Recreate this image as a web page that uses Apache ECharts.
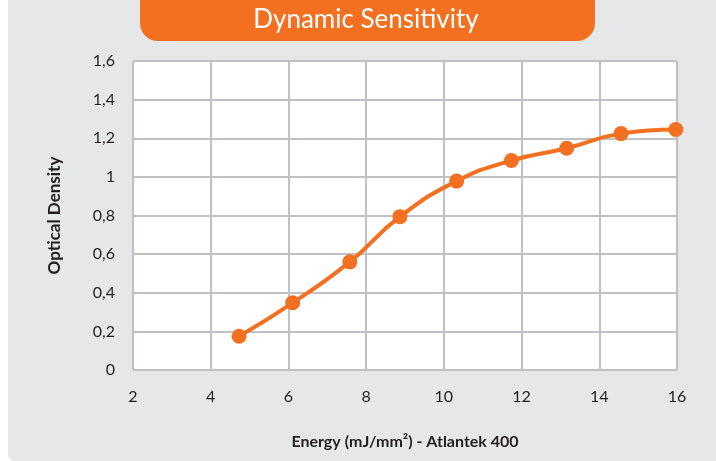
<!DOCTYPE html>
<html>
<head>
<meta charset="utf-8">
<script src="https://cdn.jsdelivr.net/npm/echarts@6/dist/echarts.min.js"></script>
<style>
  html, body { margin: 0; padding: 0; background: #fff; }
  #main { width: 716px; height: 461px; }
</style>
</head>
<body>
<div id="main"></div>
<script>
// energy (mJ/mm2) vs optical density
var energy = [4.73, 6.11, 7.58, 8.87, 10.33, 11.74, 13.16, 14.56, 15.97];
var density = [0.175, 0.348, 0.56, 0.794, 0.978, 1.085, 1.148, 1.224, 1.245];
var xTicks = [2, 4, 6, 8, 10, 12, 14, 16];
var yTicks = [0, 0.2, 0.4, 0.6, 0.8, 1, 1.2, 1.4, 1.6];

var orange = '#f37021';
var myChart = echarts.init(document.getElementById('main'));

var option = {
  animation: false,
  textStyle: { fontFamily: 'Lato' },
  graphic: [
    {
      type: 'rect', z: -10, silent: true,
      shape: { x: 8, y: 0, width: 716, height: 461, r: [0, 0, 0, 6] },
      style: { fill: '#e6e7e8' }
    },
    {
      type: 'rect', z: -5, silent: true,
      shape: { x: 140, y: 0, width: 455, height: 41, r: [0, 0, 18, 18] },
      style: { fill: orange }
    },
    {
      type: 'text', z: 10, silent: true,
      x: 366, y: 20,
      style: {
        text: 'Dynamic Sensitivity', fill: '#fff',
        font: '26px Lato', align: 'center', verticalAlign: 'middle'
      }
    }
  ],
  grid: {
    left: 133, right: 39, top: 61, bottom: 91,
    show: true, backgroundColor: '#fff', borderWidth: 0
  },
  xAxis: {
    type: 'value', min: 2, max: 16, interval: 2,
    name: 'Energy (mJ/mm²) - Atlantek 400',
    nameLocation: 'middle', nameGap: 64,
    nameTextStyle: { fontWeight: 'bold', fontSize: 16, color: '#231f20' },
    axisLine: { show: false },
    axisTick: { show: false },
    axisLabel: { fontSize: 16, color: '#231f20', margin: 19,
      formatter: function (v) { return xTicks.indexOf(v) >= 0 ? String(v) : ''; } },
    splitLine: { show: true, lineStyle: { color: '#c1c1c5', width: 2 } }
  },
  yAxis: {
    type: 'value', min: 0, max: 1.6, interval: 0.2,
    name: 'Optical Density',
    nameLocation: 'middle', nameGap: 70, nameRotate: 90,
    nameTextStyle: { fontWeight: 'bold', fontSize: 17, color: '#231f20' },
    axisLine: { show: false },
    axisTick: { show: false },
    axisLabel: { fontSize: 16, color: '#231f20', margin: 18,
      formatter: function (v) {
        var t = yTicks.find(function (y) { return Math.abs(y - v) < 1e-6; });
        return t === undefined ? '' : String(t).replace('.', ',');
      } },
    splitLine: { show: true, lineStyle: { color: '#c1c1c5', width: 2 } }
  },
  series: [{
    type: 'line',
    data: energy.map(function (x, i) { return [x, density[i]]; }),
    smooth: 0.5,
    symbol: 'circle', symbolSize: 15,
    lineStyle: { color: orange, width: 4 },
    itemStyle: { color: orange }
  }]
};
myChart.setOption(option);
</script>
</body>
</html>
